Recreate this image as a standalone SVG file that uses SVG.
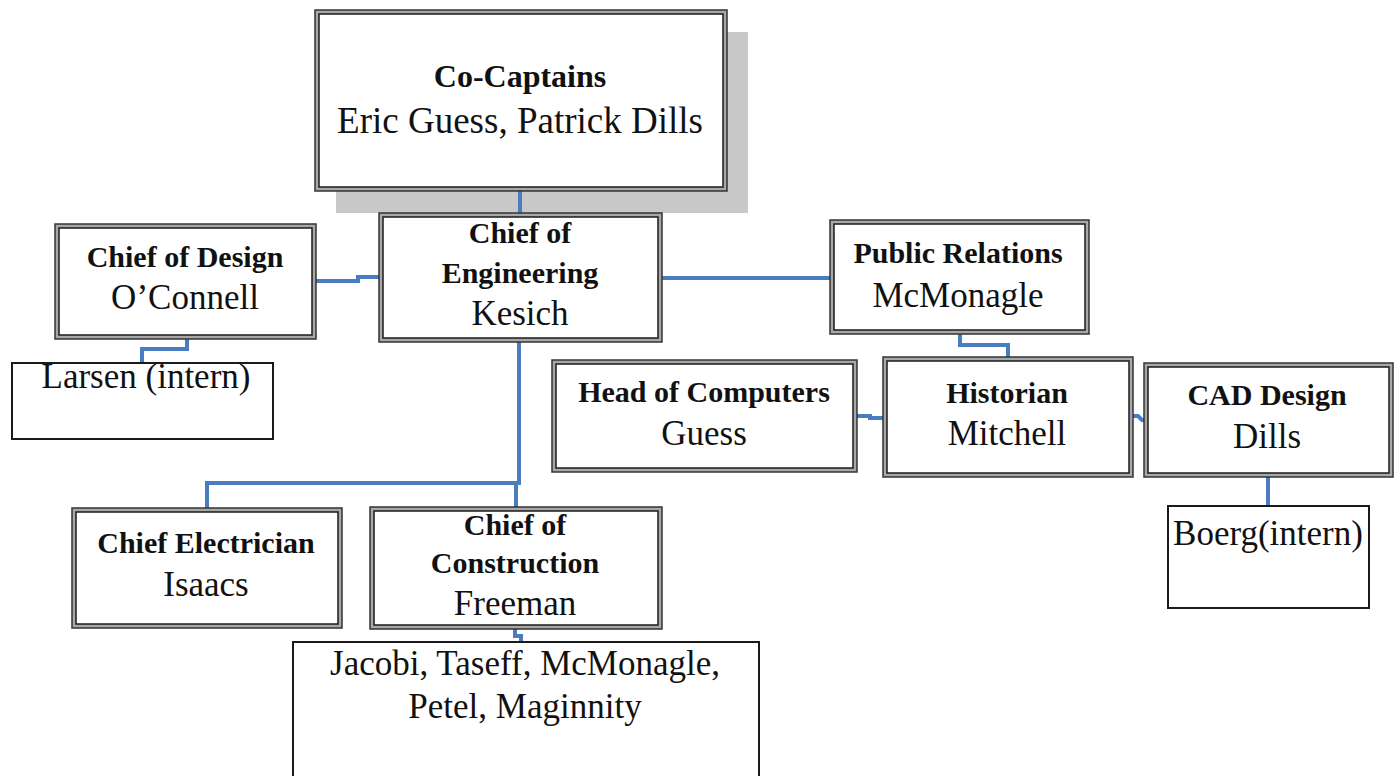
<svg xmlns="http://www.w3.org/2000/svg" width="1395" height="776" viewBox="0 0 1395 776">
<style>
.o{fill:#a8a8a8;stroke:#333;stroke-width:1.5}
.i{fill:#fff;stroke:#1a1a1a;stroke-width:1.5}
.s{fill:#fff;stroke:#1a1a1a;stroke-width:2}
text{font-family:"Liberation Serif","Times New Roman",serif;text-anchor:middle;fill:#111}
.b{font-weight:bold;font-size:30px}
.r{font-size:35px}
.c{fill:none;stroke:#4a7cc2;stroke-width:4;stroke-linejoin:miter}
</style>
<rect width="1395" height="776" fill="#fff"/>
<rect x="336" y="32" width="412" height="181" fill="#c8c8c8"/>
<g id="connectors">
<path class="c" d="M520 191V214"/>
<path class="c" d="M316 281H358V277H381"/>
<path class="c" d="M187 339V349H142V364"/>
<path class="c" d="M662 278H831"/>
<path class="c" d="M960 334V345H1008V358"/>
<path class="c" d="M857 416H870V418H884"/>
<path class="c" d="M1133 416H1138L1142 420H1145"/>
<path class="c" d="M1268 477V507"/>
<path class="c" d="M519 342V483H207V509"/>
<path class="c" d="M516 483V508"/>
<path class="c" d="M515 629V636H521V643"/>
</g>
<g id="co-captains">
<rect class="o" x="315" y="10" width="412" height="181"/>
<rect class="i" x="319" y="14" width="404" height="173"/>
<text class="b" x="520" y="87" style="font-size:32px">Co-Captains</text>
<text class="r" x="520" y="133" style="font-size:37px">Eric Guess, Patrick Dills</text>
</g>
<g id="chief-engineering">
<rect class="o" x="379" y="213" width="283" height="129"/>
<rect class="i" x="383" y="217" width="275" height="121"/>
<text class="b" x="520" y="243">Chief of</text>
<text class="b" x="520" y="283">Engineering</text>
<text class="r" x="520" y="325">Kesich</text>
</g>
<g id="chief-design">
<rect class="o" x="55" y="224" width="261" height="115"/>
<rect class="i" x="59" y="228" width="253" height="107"/>
<text class="b" x="185" y="267">Chief of Design</text>
<text class="r" x="185" y="309">O’Connell</text>
</g>
<g id="larsen">
<rect class="s" x="12" y="363" width="261" height="76"/>
<text class="r" x="146" y="388">Larsen (intern)</text>
</g>
<g id="public-relations">
<rect class="o" x="830" y="220" width="259" height="114"/>
<rect class="i" x="834" y="224" width="251" height="106"/>
<text class="b" x="958" y="263">Public Relations</text>
<text class="r" x="958" y="307">McMonagle</text>
</g>
<g id="head-computers">
<rect class="o" x="552" y="360" width="305" height="112"/>
<rect class="i" x="556" y="364" width="297" height="104"/>
<text class="b" x="704" y="402">Head of Computers</text>
<text class="r" x="704" y="445">Guess</text>
</g>
<g id="historian">
<rect class="o" x="883" y="357" width="250" height="120"/>
<rect class="i" x="887" y="361" width="242" height="112"/>
<text class="b" x="1007" y="403">Historian</text>
<text class="r" x="1007" y="445">Mitchell</text>
</g>
<g id="cad-design">
<rect class="o" x="1144" y="363" width="249" height="114"/>
<rect class="i" x="1148" y="367" width="241" height="106"/>
<text class="b" x="1267" y="405">CAD Design</text>
<text class="r" x="1267" y="448">Dills</text>
</g>
<g id="boerg">
<rect class="s" x="1168" y="506" width="201" height="102"/>
<text class="r" x="1268" y="545">Boerg(intern)</text>
</g>
<g id="chief-electrician">
<rect class="o" x="72" y="508" width="270" height="120"/>
<rect class="i" x="76" y="512" width="262" height="112"/>
<text class="b" x="206" y="553">Chief Electrician</text>
<text class="r" x="206" y="596">Isaacs</text>
</g>
<g id="chief-construction">
<rect class="o" x="370" y="507" width="292" height="122"/>
<rect class="i" x="374" y="511" width="284" height="114"/>
<text class="b" x="515" y="535">Chief of</text>
<text class="b" x="515" y="573">Construction</text>
<text class="r" x="515" y="615">Freeman</text>
</g>
<g id="construction-team">
<rect class="s" x="293" y="642" width="466" height="150"/>
<text class="r" x="525" y="675">Jacobi, Taseff, McMonagle,</text>
<text class="r" x="525" y="718">Petel, Maginnity</text>
</g>
</svg>
